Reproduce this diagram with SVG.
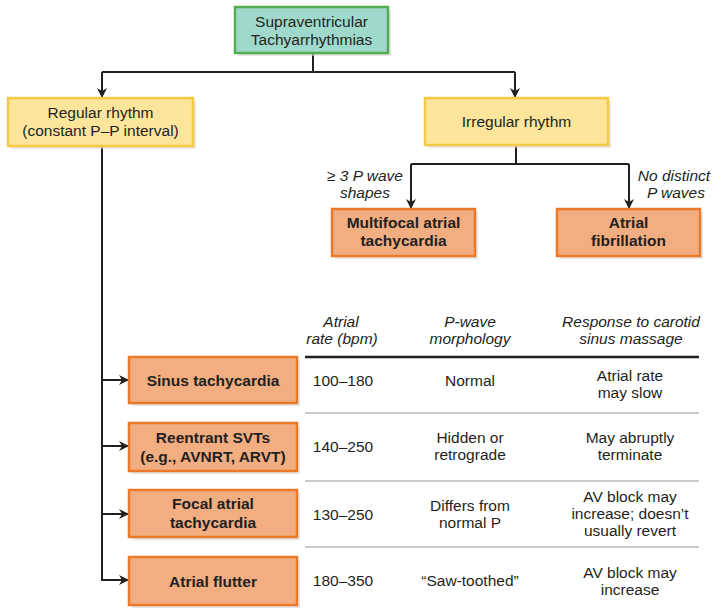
<svg xmlns="http://www.w3.org/2000/svg" width="718" height="616" viewBox="0 0 718 616">
<style>
text{font-family:"Liberation Sans",Arial,sans-serif;font-size:15.5px;fill:#231f20;text-anchor:middle}
.b{font-weight:bold}
.i{font-style:italic}
.teal{fill:#9fd9cc;stroke:#55ad52;stroke-width:2.5}
.yel{fill:#fde59c;stroke:#f6c944;stroke-width:2.5}
.org{fill:#f2ae80;stroke:#ea7a2a;stroke-width:2.5}
.sh{fill:#d6d6d6;opacity:0.6}
.ln{fill:none;stroke:#231f20;stroke-width:2}
.rule{stroke:#9a9a9a;stroke-width:1.2}
</style>
<defs>
<marker id="ah" viewBox="0 0 10 10" refX="9" refY="5" markerWidth="5" markerHeight="5" orient="auto">
<path d="M0,0 L10,5 L0,10 L3,5 z" fill="#231f20"/>
</marker>
</defs>
<rect width="718" height="616" fill="#ffffff"/>

<g id="connectors">
<path class="ln" d="M313,53 V72"/>
<path class="ln" d="M102,72 H515"/>
<path class="ln" d="M102,72 V97" marker-end="url(#ah)"/>
<path class="ln" d="M515,72 V97" marker-end="url(#ah)"/>
<path class="ln" d="M516,145 V164"/>
<path class="ln" d="M411,164 H629"/>
<path class="ln" d="M411,164 V208" marker-end="url(#ah)"/>
<path class="ln" d="M629,164 V208" marker-end="url(#ah)"/>
<path class="ln" d="M102,146 V580"/>
<path class="ln" d="M101,380 H128" marker-end="url(#ah)"/>
<path class="ln" d="M101,446 H128" marker-end="url(#ah)"/>
<path class="ln" d="M101,514 H128" marker-end="url(#ah)"/>
<path class="ln" d="M101,580 H128" marker-end="url(#ah)"/>
<text class="i" x="365" y="181">≥ 3 P wave</text>
<text class="i" x="365" y="198">shapes</text>
<text class="i" x="674" y="181">No distinct</text>
<text class="i" x="676" y="198">P waves</text>
</g>

<g id="n-svt">
<rect class="sh" x="238" y="10" width="153" height="46"/>
<rect class="teal" x="235" y="7" width="153" height="46"/>
<text x="311.5" y="27">Supraventricular</text>
<text x="311.5" y="45">Tachyarrhythmias</text>
</g>

<g id="n-regular">
<rect class="sh" x="11" y="101" width="185" height="48"/>
<rect class="yel" x="8" y="98" width="185" height="48"/>
<text x="100.5" y="118">Regular rhythm</text>
<text x="100.5" y="136">(constant P–P interval)</text>
</g>

<g id="n-irregular">
<rect class="sh" x="428" y="101" width="183" height="47"/>
<rect class="yel" x="425" y="98" width="183" height="47"/>
<text x="516.5" y="127">Irregular rhythm</text>
</g>

<g id="n-mat">
<rect class="sh" x="335" y="212" width="143" height="47"/>
<rect class="org" x="332" y="209" width="143" height="47"/>
<text class="b" x="403.5" y="228">Multifocal atrial</text>
<text class="b" x="403.5" y="246">tachycardia</text>
</g>

<g id="n-af">
<rect class="sh" x="560" y="212" width="143" height="47"/>
<rect class="org" x="557" y="209" width="143" height="47"/>
<text class="b" x="628.5" y="228">Atrial</text>
<text class="b" x="628.5" y="246">fibrillation</text>
</g>

<g id="n-sinus">
<rect class="sh" x="132" y="360" width="168" height="46"/>
<rect class="org" x="129" y="357" width="168" height="46"/>
<text class="b" x="213" y="386">Sinus tachycardia</text>
</g>

<g id="n-reentrant">
<rect class="sh" x="132" y="426" width="168" height="48"/>
<rect class="org" x="129" y="423" width="168" height="48"/>
<text class="b" x="213" y="443">Reentrant SVTs</text>
<text class="b" x="213" y="462">(e.g., AVNRT, ARVT)</text>
</g>

<g id="n-focal">
<rect class="sh" x="132" y="493" width="168" height="47"/>
<rect class="org" x="129" y="490" width="168" height="47"/>
<text class="b" x="213" y="509">Focal atrial</text>
<text class="b" x="213" y="528">tachycardia</text>
</g>

<g id="n-flutter">
<rect class="sh" x="132" y="560" width="168" height="48"/>
<rect class="org" x="129" y="557" width="168" height="48"/>
<text class="b" x="213" y="587">Atrial flutter</text>
</g>

<g id="table">
<text class="i" x="341" y="327">Atrial</text>
<text class="i" x="342" y="344">rate (bpm)</text>
<text class="i" x="470" y="327">P-wave</text>
<text class="i" x="470" y="344">morphology</text>
<text class="i" x="631" y="327">Response to carotid</text>
<text class="i" x="631" y="344">sinus massage</text>
<line x1="305" y1="357" x2="699" y2="357" stroke="#231f20" stroke-width="2.5"/>
<line class="rule" x1="305" y1="413" x2="699" y2="413"/>
<line class="rule" x1="305" y1="481" x2="699" y2="481"/>
<line class="rule" x1="305" y1="547" x2="699" y2="547"/>

<text x="343" y="386">100–180</text>
<text x="470" y="386">Normal</text>
<text x="630" y="381">Atrial rate</text>
<text x="630" y="398">may slow</text>

<text x="343" y="452">140–250</text>
<text x="470" y="443">Hidden or</text>
<text x="470" y="460">retrograde</text>
<text x="630" y="443">May abruptly</text>
<text x="630" y="460">terminate</text>

<text x="343" y="520">130–250</text>
<text x="470" y="511">Differs from</text>
<text x="470" y="528">normal P</text>
<text x="630" y="502">AV block may</text>
<text x="630" y="519">increase; doesn’t</text>
<text x="630" y="536">usually revert</text>

<text x="343" y="586">180–350</text>
<text x="470" y="586">“Saw-toothed”</text>
<text x="630" y="578">AV block may</text>
<text x="630" y="595">increase</text>
</g>
</svg>
